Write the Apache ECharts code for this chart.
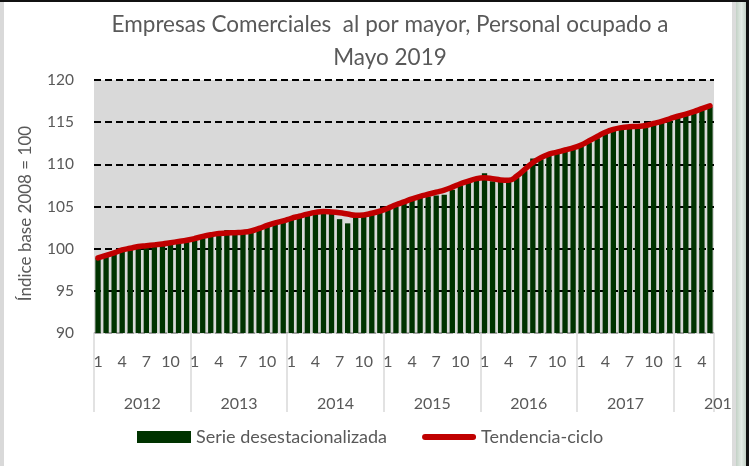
<!DOCTYPE html>
<html>
<head>
<meta charset="utf-8">
<script src="https://cdn.jsdelivr.net/npm/echarts@6/dist/echarts.min.js"></script>
<style>
html,body{margin:0;padding:0;background:#fff;}
#wrap{position:relative;width:756px;height:466px;overflow:hidden;}
#main{position:absolute;left:0;top:0;width:756px;height:466px;}
.fr{position:absolute;}
</style>
</head>
<body>
<div id="wrap">
<div id="main"></div>
<div class="fr" style="left:0;top:0;width:4px;height:466px;background:#d9d9d9"></div>
<div class="fr" style="left:0;top:0;width:749px;height:2px;background:#111"></div>
<div class="fr" style="left:732px;top:2px;width:4px;height:464px;background:#dcdcdc"></div>
<div class="fr" style="left:736px;top:2px;width:10px;height:464px;background:linear-gradient(90deg,#c3d1c6,#e4ece6 55%,#c3d1c6)"></div>
<div class="fr" style="left:746px;top:0;width:3px;height:466px;background:#111"></div>
</div>
<script>
// datos
var years = ['2012','2013','2014','2015','2016','2017','201'];
var monthsPerYear = [12,12,12,12,12,12,5];

var serie = [
    98.9, 99.1, 99.4, 99.8, 100.0, 100.1, 100.2, 100.3, 100.4, 100.6, 100.7, 100.9,
    101.0, 101.3, 101.6, 102.0, 102.2, 101.8, 101.8, 102.0, 102.3, 102.6, 102.9, 103.2,
    103.4, 103.7, 104.0, 104.2, 104.3, 104.3, 103.5, 103.0, 103.8, 103.9, 104.1, 104.3,
    104.6, 105.0, 105.4, 105.7, 106.0, 106.2, 106.3, 106.4, 107.0, 107.5, 107.9, 108.2,
    108.95, 108.0, 107.9, 107.9, 108.4, 109.2, 110.7, 110.6, 111.0, 111.3, 111.5, 111.8,
    112.2, 112.6, 113.1, 113.6, 114.0, 114.2, 114.3, 114.3, 114.4, 114.7, 115.0, 115.2,
    115.5, 115.8, 116.1, 116.4, 116.8
];
var tendencia = [
    98.9, 99.2, 99.5, 99.85, 100.05, 100.25, 100.35, 100.45, 100.55, 100.7, 100.85, 101.0,
    101.2, 101.45, 101.65, 101.8, 101.85, 101.9, 101.95, 102.1, 102.4, 102.75, 103.05, 103.3,
    103.6, 103.85, 104.1, 104.3, 104.4, 104.35, 104.25, 104.1, 103.95, 104.0, 104.2, 104.45,
    104.8, 105.2, 105.55, 105.9, 106.2, 106.45, 106.7, 106.95, 107.3, 107.7, 108.0, 108.3,
    108.4, 108.3, 108.15, 108.1, 108.6, 109.4, 110.2, 110.8, 111.2, 111.45, 111.7, 111.95,
    112.3, 112.8, 113.3, 113.8, 114.15, 114.35, 114.45, 114.5, 114.6, 114.85, 115.1, 115.4,
    115.7, 115.95, 116.25, 116.6, 116.95
];
var yTicks = {min: 90, max: 120, interval: 5};

var cats = [];
for (var y = 0; y < years.length; y++) {
    for (var m = 1; m <= monthsPerYear[y]; m++) {
        cats.push(years[y] + '-' + m);
    }
}
var last = cats.length - 1;
var font = 'Lato';
var grey = '#595959';

var chart = echarts.init(document.getElementById('main'));
var option = {
    animation: false,
    title: {
        text: 'Empresas Comerciales  al por mayor, Personal ocupado a\nMayo 2019',
        left: 385,
        top: 3,
        textAlign: 'center',
        textStyle: {fontFamily: font, fontSize: 22.5, fontWeight: 'normal', color: grey, lineHeight: 33}
    },
    legend: {
        left: 132,
        top: 423,
        itemWidth: 54,
        itemHeight: 12,
        itemGap: 35,
        textStyle: {fontFamily: font, fontSize: 18, color: grey},
        data: [
            {name: 'Serie desestacionalizada', icon: 'rect'},
            {name: 'Tendencia-ciclo', icon: 'path://M3,0 H51 A3,3 0 0 1 51,6 H3 A3,3 0 0 1 3,0 Z'}
        ]
    },
    grid: {left: 94, right: 42, top: 80, bottom: 133, show: true, backgroundColor: '#d9d9d9', borderWidth: 0},
    xAxis: [{
        type: 'category',
        data: cats,
        axisLine: {show: true, lineStyle: {color: '#d9d9d9', width: 1.5}},
        axisTick: {
            show: true, length: 79,
            interval: function (i) { return i % 12 === 0; },
            lineStyle: {color: '#d9d9d9', width: 1.5}
        },
        axisLabel: {
            interval: 2,
            margin: 21,
            fontFamily: font, fontSize: 16, color: grey,
            formatter: function (v) { return v.split('-')[1]; }
        }
    }, {
        type: 'category',
        data: cats,
        position: 'bottom',
        axisLine: {show: false},
        axisTick: {show: false},
        axisLabel: {
            margin: 63,
            fontFamily: font, fontSize: 16, color: grey,
            interval: function (i) { return i % 12 === 6 || i === last; },
            formatter: function (v, i) {
                var yr = v.split('-')[0];
                return i === last ? '{z|' + yr + '}' : '{y|' + yr + '}';
            },
            rich: {
                y: {fontFamily: font, fontSize: 16, color: grey, padding: [0, 8, 0, 0]},
                z: {fontFamily: font, fontSize: 16, color: grey, padding: [0, 0, 0, 16]}
            }
        }
    }],
    yAxis: {
        type: 'value',
        min: yTicks.min,
        max: yTicks.max,
        interval: yTicks.interval,
        name: 'Índice base 2008 = 100',
        nameLocation: 'middle',
        nameGap: 60,
        nameTextStyle: {fontFamily: font, fontSize: 17, color: grey, padding: [0, 14, 0, 0]},
        axisLine: {show: false},
        axisTick: {show: false},
        axisLabel: {margin: 20, fontFamily: font, fontSize: 15.5, color: grey},
        splitLine: {
            show: true,
            lineStyle: {color: '#000', width: 2, type: [7, 4]}
        }
    },
    series: [{
        name: 'Serie desestacionalizada',
        type: 'bar',
        data: serie,
        barCategoryGap: '34%',
        itemStyle: {color: '#003300'}
    }, {
        name: 'Tendencia-ciclo',
        type: 'line',
        data: tendencia,
        smooth: true,
        symbol: 'none',
        lineStyle: {color: '#c00000', width: 5.5, cap: 'round'},
        itemStyle: {color: '#c00000'}
    }]
};
chart.setOption(option);
</script>
</body>
</html>
